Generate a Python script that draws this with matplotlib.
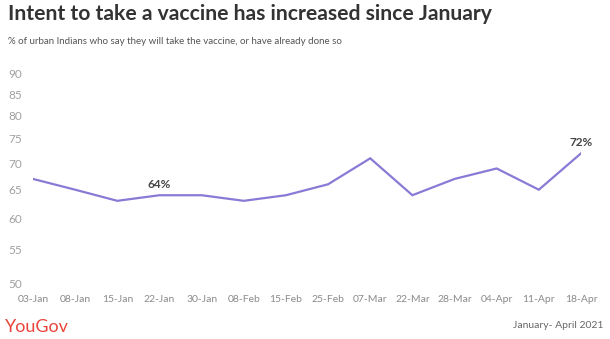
import matplotlib

matplotlib.use("Agg")
import matplotlib.pyplot as plt
from matplotlib.ticker import FixedLocator, NullLocator

plt.rcParams["font.family"] = ["Lato", "DejaVu Sans"]

dates = ["03-Jan", "08-Jan", "15-Jan", "22-Jan", "30-Jan", "08-Feb", "15-Feb",
         "25-Feb", "07-Mar", "22-Mar", "28-Mar", "04-Apr", "11-Apr", "18-Apr"]
intent = [67, 65, 63, 64, 64, 63, 64, 66, 71, 64, 67, 69, 65, 72]
y_ticks = [50, 55, 60, 65, 70, 75, 80, 85, 90]
labelled = {3: "64%", 13: "72%"}

W, H = 610, 339
fig = plt.figure(figsize=(W / 100, H / 100), dpi=100)
ax = fig.add_axes([33 / W, 1 - 283 / H, (581 - 33) / W, (283 - 74) / H])

x = list(range(len(dates)))
ax.plot(x, intent, color="#8a7ad6", linewidth=1.6, solid_joinstyle="miter")
ax.set_yscale("log")
ax.set_ylim(50, 90)
ax.set_xlim(0, len(dates) - 1)

ax.yaxis.set_major_locator(FixedLocator(y_ticks))
ax.yaxis.set_minor_locator(NullLocator())
ax.set_yticklabels([str(v) for v in y_ticks])
ax.set_xticks(x)
ax.set_xticklabels(dates)
# pad in points: labels start ~25 px left of the plot area
ax.tick_params(axis="y", length=0, pad=18, labelsize=8.5, labelcolor="#a0a0a0")
ax.tick_params(axis="x", length=0, pad=9, labelsize=7.5, labelcolor="#8a8a8a")
for lab in ax.get_yticklabels():
    lab.set_ha("left")
for s in ax.spines.values():
    s.set_visible(False)

for i, txt in labelled.items():
    ax.annotate(txt, (i, intent[i]), xytext=(0, 4), textcoords="offset points",
                ha="center", va="bottom", fontsize=8.5, fontweight="bold",
                color="#444444")

fig.text(8 / W, 1 - 14 / H, "Intent to take a vaccine has increased since January",
         fontsize=15.2, fontweight="bold", color="#333333", va="center", ha="left")
fig.text(8 / W, 1 - 42 / H,
         "% of urban Indians who say they will take the vaccine, or have already done so",
         fontsize=7, color="#555555", va="center", ha="left")
fig.text(5 / W, 1 - 327 / H, "YouGov", fontsize=13, color="#e8453c",
         va="center", ha="left")
fig.text(603 / W, 1 - 326 / H, "January- April 2021", fontsize=7.5,
         color="#666666", va="center", ha="right")

fig.savefig("out.png", dpi=100)
